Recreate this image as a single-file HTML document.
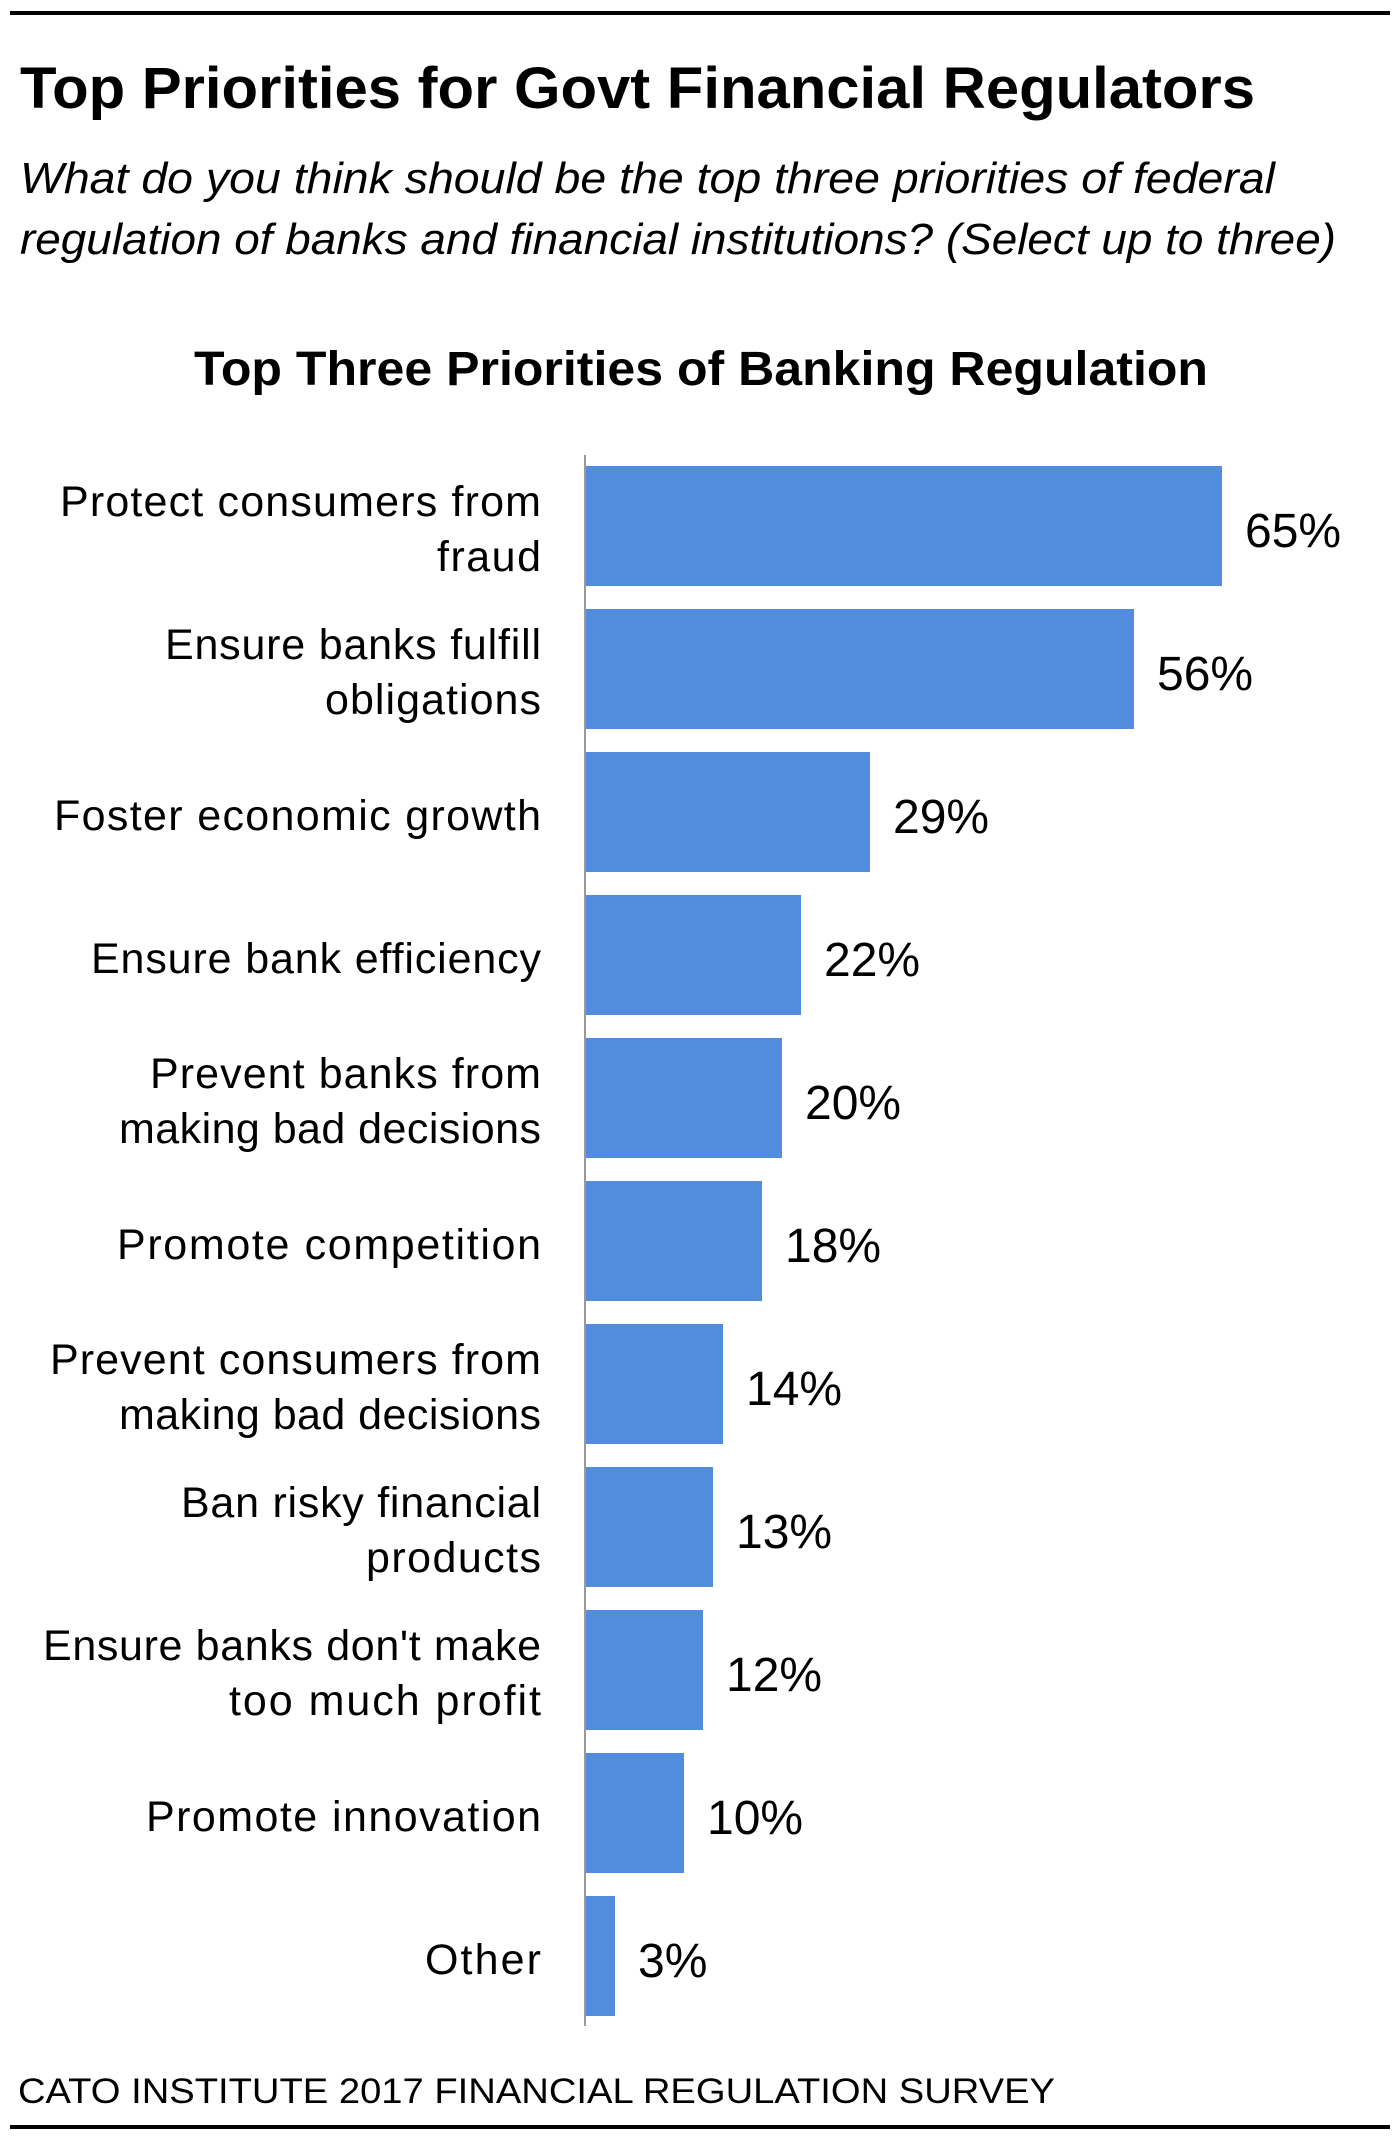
<!DOCTYPE html>
<html><head><meta charset="utf-8"><style>html,body{margin:0;padding:0;background:#fff}svg{display:block}</style></head>
<body>
<svg width="1400" height="2145" viewBox="0 0 1400 2145" xmlns="http://www.w3.org/2000/svg" font-family="Liberation Sans, sans-serif">
<rect x="0" y="0" width="1400" height="2145" fill="#fff"/>
<rect x="10" y="11" width="1380" height="4" fill="#000"/>
<rect x="10" y="2125" width="1380" height="4" fill="#000"/>
<text x="20" y="108" font-size="58" font-weight="bold" textLength="1235" lengthAdjust="spacingAndGlyphs">Top Priorities for Govt Financial Regulators</text>
<text x="20" y="193" font-size="44" font-style="italic" textLength="1255" lengthAdjust="spacingAndGlyphs">What do you think should be the top three priorities of federal</text>
<text x="20" y="254" font-size="44" font-style="italic" textLength="1316" lengthAdjust="spacingAndGlyphs">regulation of banks and financial institutions? (Select up to three)</text>
<text x="194" y="385" font-size="48" font-weight="bold" textLength="1014" lengthAdjust="spacingAndGlyphs">Top Three Priorities of Banking Regulation</text>
<g fill="#528cdc">
<rect x="586" y="466" width="636" height="120"/>
<rect x="586" y="609" width="548" height="120"/>
<rect x="586" y="752" width="284" height="120"/>
<rect x="586" y="895" width="215" height="120"/>
<rect x="586" y="1038" width="196" height="120"/>
<rect x="586" y="1181" width="176" height="120"/>
<rect x="586" y="1324" width="137" height="120"/>
<rect x="586" y="1467" width="127" height="120"/>
<rect x="586" y="1610" width="117" height="120"/>
<rect x="586" y="1753" width="98" height="120"/>
<rect x="586" y="1896" width="29" height="120"/>
</g>
<rect x="584" y="455" width="2" height="1571" fill="#999"/>
<g font-size="43" text-anchor="end" lengthAdjust="spacingAndGlyphs">
<text x="541" y="516" textLength="481">Protect consumers from</text><text x="541" y="571" textLength="104">fraud</text>
<text x="541" y="659" textLength="376">Ensure banks fulfill</text><text x="541" y="714" textLength="216">obligations</text>
<text x="541" y="830" textLength="487">Foster economic growth</text>
<text x="541" y="973" textLength="450">Ensure bank efficiency</text>
<text x="541" y="1088" textLength="391">Prevent banks from</text><text x="541" y="1143" textLength="422">making bad decisions</text>
<text x="541" y="1259" textLength="424">Promote competition</text>
<text x="541" y="1374" textLength="491">Prevent consumers from</text><text x="541" y="1429" textLength="422">making bad decisions</text>
<text x="541" y="1517" textLength="360">Ban risky financial</text><text x="541" y="1572" textLength="175">products</text>
<text x="541" y="1660" textLength="498">Ensure banks don't make</text><text x="541" y="1715" textLength="312">too much profit</text>
<text x="541" y="1831" textLength="395">Promote innovation</text>
<text x="541" y="1974" textLength="116">Other</text>
</g>
<g font-size="48">
<text x="1245" y="547">65%</text>
<text x="1157" y="690">56%</text>
<text x="893" y="833">29%</text>
<text x="824" y="976">22%</text>
<text x="805" y="1119">20%</text>
<text x="785" y="1262">18%</text>
<text x="746" y="1405">14%</text>
<text x="736" y="1548">13%</text>
<text x="726" y="1691">12%</text>
<text x="707" y="1834">10%</text>
<text x="638" y="1977">3%</text>
</g>
<text x="18" y="2103" font-size="35" textLength="1037" lengthAdjust="spacingAndGlyphs">CATO INSTITUTE 2017 FINANCIAL REGULATION SURVEY</text>
</svg>
</body></html>
